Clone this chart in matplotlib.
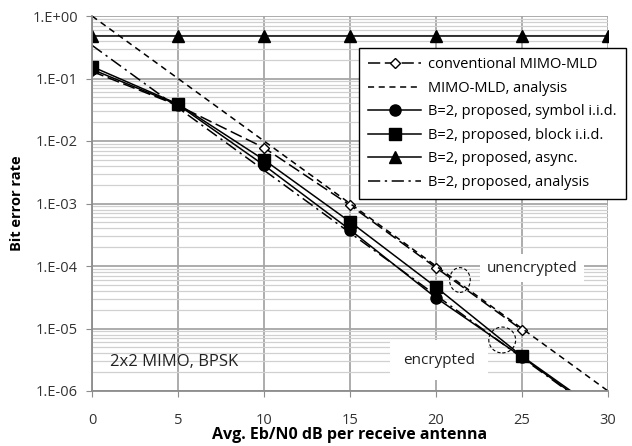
import matplotlib
matplotlib.use("Agg")
import matplotlib.pyplot as plt
from matplotlib.ticker import FuncFormatter, LogLocator, FixedLocator, NullFormatter
from matplotlib.patches import Ellipse
import numpy as np

plt.rcParams['font.family'] = ['Open Sans', 'DejaVu Sans']

snr = [0, 5, 10, 15, 20, 25, 30]
snr_conv = [0, 5, 10, 15, 20, 25]
y_ticks = [1e-6, 1e-5, 1e-4, 1e-3, 1e-2, 1e-1, 1.0]
y_tick_labels = ['1.E-06', '1.E-05', '1.E-04', '1.E-03', '1.E-02', '1.E-01', '1.E+00']

conv_mld = [0.13, 0.037, 7.8e-3, 9.4e-4, 9.4e-5, 9.5e-6]
mld_analysis = [1.0, 0.1, 1e-2, 1e-3, 1e-4, 1e-5, 1e-6]
symbol_iid = [0.14, 0.038, 4.1e-3, 3.8e-4, 3.1e-5, 3.5e-6, 3.5e-7]
block_iid = [0.155, 0.039, 5.0e-3, 5.1e-4, 4.6e-5, 3.6e-6, 3.8e-7]
async_ber = [0.47, 0.47, 0.47, 0.47, 0.47, 0.47, 0.47]
prop_analysis = [0.34, 0.034, 3.4e-3, 3.4e-4, 3.4e-5, 3.4e-6, 3.4e-7]

labels = ['conventional MIMO-MLD', 'MIMO-MLD, analysis',
          'B=2, proposed, symbol i.i.d.', 'B=2, proposed, block i.i.d.',
          'B=2, proposed, async.', 'B=2, proposed, analysis']

fig = plt.figure(figsize=(6.32, 4.46), dpi=100)
ax = fig.add_axes([92 / 632, 55 / 446, 516 / 632, 375 / 446])

lw = 1.1
ax.plot(snr_conv, conv_mld, color='black', lw=lw, dashes=(8, 3), marker='D',
        markersize=5.5, markerfacecolor='white', markeredgecolor='black', label=labels[0])
ax.plot(snr, mld_analysis, color='black', lw=lw, dashes=(4, 3), label=labels[1])
ax.plot(snr, symbol_iid, color='black', lw=lw, marker='o', markersize=8, label=labels[2])
ax.plot(snr, block_iid, color='black', lw=lw, marker='s', markersize=8, label=labels[3])
ax.plot(snr, async_ber, color='black', lw=lw, marker='^', markersize=8, label=labels[4])
ax.plot(snr, prop_analysis, color='black', lw=lw, dashes=(8, 3, 1.5, 3), label=labels[5])

ax.set_yscale('log')
ax.set_xlim(0, 30)
ax.set_ylim(1e-6, 1)
ax.xaxis.set_major_locator(FixedLocator(snr))
ax.set_yticks(y_ticks)
ax.set_yticklabels(y_tick_labels)
ax.yaxis.set_minor_locator(LogLocator(base=10, subs=np.arange(2, 10), numticks=20))
ax.yaxis.set_minor_formatter(NullFormatter())

ax.grid(True, which='major', axis='both', color='#a6a6a6', lw=1.3)
ax.grid(True, which='minor', axis='y', color='#d0d0d0', lw=0.9)
ax.set_axisbelow(True)
for s in ax.spines.values():
    s.set_visible(False)
ax.spines['left'].set_visible(True)
ax.spines['bottom'].set_visible(True)
ax.spines['left'].set_color('#8c8c8c')
ax.spines['bottom'].set_color('#8c8c8c')
ax.spines['left'].set_linewidth(1.3)
ax.spines['bottom'].set_linewidth(1.3)
ax.tick_params(which='major', length=4, color='#8c8c8c', labelsize=10.5, labelcolor='#333333')
ax.tick_params(which='minor', length=0)
ax.tick_params(axis='y', pad=6)
ax.tick_params(axis='x', pad=12)

ax.set_xlabel('Avg. Eb/N0 dB per receive antenna', fontsize=11.5, fontweight='bold', labelpad=-1)
ax.set_ylabel('Bit error rate', fontsize=10.5, fontweight='bold', labelpad=6)

leg = ax.legend(loc='upper left', bbox_to_anchor=(359 / 632, 398 / 446),
                bbox_transform=fig.transFigure, borderaxespad=0,
                fancybox=False, framealpha=1, edgecolor='black', fontsize=10.5,
                handlelength=3.6, handletextpad=0.5, labelspacing=0.58, borderpad=0.65)
leg.get_frame().set_linewidth(1.0)

fig.text(532 / 632, 1 - 268 / 446, 'unencrypted', fontsize=11, color='#222222',
         ha='center', va='center', bbox=dict(facecolor='white', edgecolor='none', pad=5))
fig.text(439 / 632, 1 - 360 / 446, 'encrypted', fontsize=11, color='#222222',
         ha='center', va='center', bbox=dict(facecolor='white', edgecolor='none', pad=9))
ax.text(0.035, 0.078, '2x2 MIMO, BPSK', transform=ax.transAxes, fontsize=12, color='#222222',
        ha='left', va='center')

ax.add_patch(Ellipse((0.713, 0.296), 0.040, 0.066, transform=ax.transAxes, fill=False,
                     edgecolor='black', lw=0.8, linestyle=(0, (3, 2))))
ax.add_patch(Ellipse((0.795, 0.136), 0.052, 0.069, transform=ax.transAxes, fill=False,
                     edgecolor='black', lw=0.8, linestyle=(0, (3, 2))))

fig.savefig('out.png', dpi=100)
